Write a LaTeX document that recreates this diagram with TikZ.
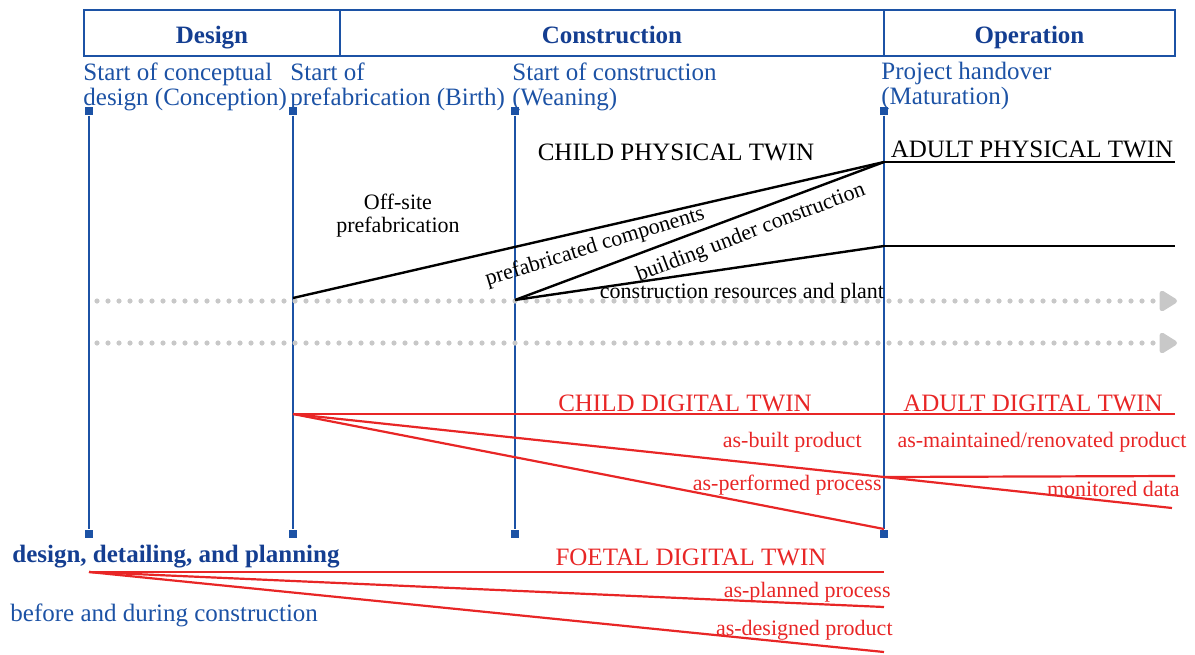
\documentclass[tikz,border=0pt]{standalone}
\usepackage{fontspec}
\setmainfont{Liberation Serif}
\usetikzlibrary{arrows.meta}

\definecolor{phaseblue}{RGB}{28,82,165}
\definecolor{headblue}{RGB}{20,62,145}
\definecolor{twinred}{RGB}{232,38,38}
\definecolor{dotgray}{RGB}{200,200,200}

\begin{document}
\begin{tikzpicture}[x=0.5pt, y=-0.5pt, every node/.style={inner sep=0pt},
    big/.style={font=\fontsize{12.5}{12.5}\selectfont},
    small/.style={font=\fontsize{11}{11.5}\selectfont},
    phase/.style={draw=phaseblue, line width=1.1pt, minimum height=23pt, text height=11pt, text depth=1pt, text=headblue, font=\fontsize{12.5}{12.5}\selectfont\bfseries},
    stone/.style={fill=phaseblue, minimum size=4.2pt},
    dots/.style={dotgray, line width=2.6pt, line cap=round, dash pattern=on 0pt off 5.5pt, -{Triangle[width=11.5pt,length=10pt,round]}}]

\useasboundingbox (0,0) rectangle (1195,654);

% phases
\node[phase, minimum width=128pt] (design) at (212,33) {Design};
\node[phase, minimum width=272pt] (construction) at (612,33) {Construction};
\node[phase, minimum width=145.5pt] (operation) at (1029.5,33) {Operation};

% milestones
\node[big, text=phaseblue, anchor=north west, align=left] (conception) at (83,62) {Start of conceptual\\design (Conception)};
\node[big, text=phaseblue, anchor=north west, align=left] (birth) at (290,62) {Start of\\prefabrication (Birth)};
\node[big, text=phaseblue, anchor=north west, align=left] (weaning) at (512,62) {Start of construction\\(Weaning)};
\node[big, text=phaseblue, anchor=north west, align=left] (maturation) at (881,62) {Project handover\\(Maturation)};

\node[stone] (c-top) at (89,111) {};
\node[stone] (c-bot) at (89,534) {};
\node[stone] (b-top) at (293,111) {};
\node[stone] (b-bot) at (293,534) {};
\node[stone] (w-top) at (515,111) {};
\node[stone] (w-bot) at (515,534) {};
\node[stone] (m-top) at (884,111) {};
\node[stone] (m-bot) at (884,534) {};

\draw[phaseblue, line width=1pt] (c-top) -- (c-bot);
\draw[phaseblue, line width=1pt] (b-top) -- (b-bot);
\draw[phaseblue, line width=1pt] (w-top) -- (w-bot);
\draw[phaseblue, line width=1pt] (m-top) -- (m-bot);

% time arrows
\coordinate (d1-s) at (97,301);
\coordinate (d1-e) at (1177,301);
\coordinate (d2-s) at (97,343);
\coordinate (d2-e) at (1177,343);
\draw[dots] (d1-s) -- (d1-e);
\draw[dots] (d2-s) -- (d2-e);

% physical twin
\coordinate (pb) at (293,298);
\coordinate (pw) at (515,300);
\coordinate (pa) at (884,162);
\coordinate (pr) at (884,246);
\coordinate (pa-e) at (1175,162);
\coordinate (pr-e) at (1175,246);

\draw[line width=1.2pt] (pb) -- (pa);
\draw[line width=1.2pt] (pw) -- (pa);
\draw[line width=1.2pt] (pw) -- (pr);
\draw[line width=1.2pt] (pa) -- (pa-e);
\draw[line width=1.2pt] (pr) -- (pr-e);

\node[big] (child-pt) at (676,152) {CHILD PHYSICAL TWIN};
\node[big] (adult-pt) at (1032,149) {ADULT PHYSICAL TWIN};
\node[small, align=center] (offsite) at (398,216) {Off-site\\prefabrication};
\node[small, rotate=17] (prefab) at (595,247) {prefabricated components};
\node[small, rotate=21] (building) at (751,233) {building under construction};
\node[small] (resources) at (742,293) {construction resources and plant};

% digital twins
\coordinate (db) at (293,414);
\coordinate (dc-e) at (1175,414);
\coordinate (dm) at (884,477);
\coordinate (dp) at (884,529);
\coordinate (dm-e) at (1175,476);
\coordinate (dd-e) at (1172,508);

\draw[twinred, line width=1.1pt] (db) -- (dc-e);
\draw[twinred, line width=1.1pt] (db) -- (dm);
\draw[twinred, line width=1.1pt] (db) -- (dp);
\draw[twinred, line width=1.1pt] (dm) -- (dm-e);
\draw[twinred, line width=1.1pt] (dm) -- (dd-e);

\node[big, text=twinred] (child-dt) at (685,403) {CHILD DIGITAL TWIN};
\node[big, text=twinred] (adult-dt) at (1033,403) {ADULT DIGITAL TWIN};
\node[small, text=twinred, anchor=east] (asbuilt) at (862,442) {as-built product};
\node[small, text=twinred, anchor=east] (asperf) at (882,485) {as-performed process};
\node[small, text=twinred] (asmaint) at (1042,442) {as-maintained/renovated product};
\node[small, text=twinred, anchor=east] (monitor) at (1180,489) {monitored data};

% foetal twin
\coordinate (df) at (89,572);
\coordinate (df-e) at (884,572);
\coordinate (dpl-e) at (884,607);
\coordinate (dds-e) at (884,652);

\draw[twinred, line width=1.1pt] (df) -- (df-e);
\draw[twinred, line width=1.1pt] (df) -- (dpl-e);
\draw[twinred, line width=1.1pt] (df) -- (dds-e);

\node[big, text=twinred] (foetal) at (691,557) {FOETAL DIGITAL TWIN};
\node[small, text=twinred, anchor=east] (asplan) at (891,592) {as-planned process};
\node[small, text=twinred, anchor=east] (asdes) at (893,630) {as-designed product};

\node[big, text=headblue, font=\fontsize{12.5}{12.5}\selectfont\bfseries, anchor=west] (ddp) at (12,557) {design, detailing, and planning};
\node[big, text=phaseblue, anchor=west] (bdc) at (10,615) {before and during construction};

\end{tikzpicture}
\end{document}
